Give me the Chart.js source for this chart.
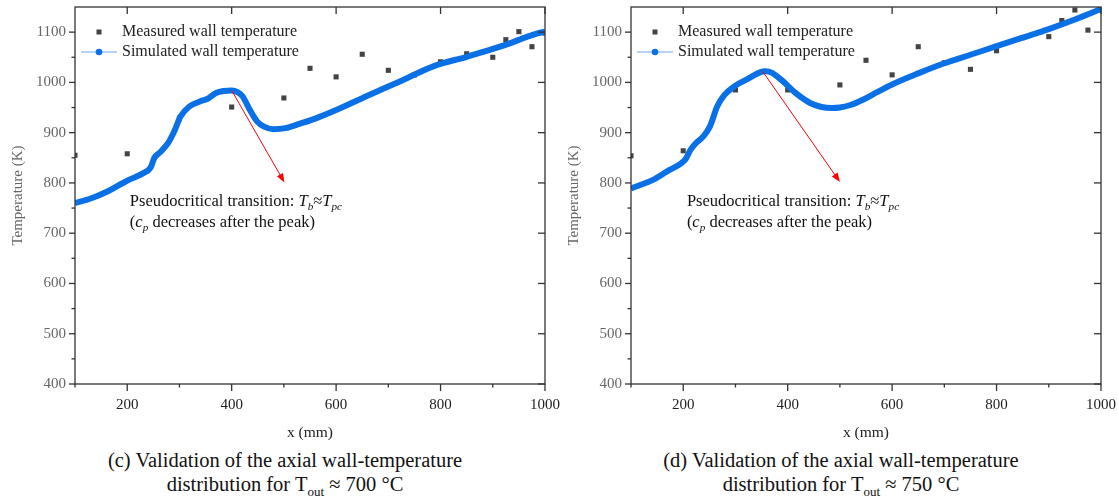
<!DOCTYPE html>
<html>
<head>
<meta charset="utf-8">
<script src="https://cdn.jsdelivr.net/npm/chart.js@4.4.1/dist/chart.umd.min.js"></script>
<style>
  body { margin: 0; background: #fff; }
  #page { position: relative; width: 1119px; height: 501px; overflow: hidden; font-family: 'Liberation Serif', 'Times New Roman', serif; }
  .panel { position: absolute; top: 0; }
  .cap { position: absolute; text-align: center; font-size: 20.5px; line-height: 24px; color: #111; white-space: nowrap; }
  .cap .sub { font-size: 13px; position: relative; top: 5px; }
</style>
</head>
<body>
<div id="page">
  <div class="panel" style="left:0"><canvas id="chartC" width="560" height="445"></canvas></div>
  <div class="panel" style="left:560px"><canvas id="chartD" width="559" height="445"></canvas></div>
  <div class="cap" style="left:0;width:570px;top:448px">(c) Validation of the axial wall-temperature</div>
  <div class="cap" style="left:0;width:570px;top:472px">distribution for T<span class="sub">out</span> ≈ 700 °C</div>
  <div class="cap" style="left:560px;width:562px;top:448px">(d) Validation of the axial wall-temperature</div>
  <div class="cap" style="left:560px;width:562px;top:472px">distribution for T<span class="sub">out</span> ≈ 750 °C</div>
</div>
<script>
// axis ticks (mm, K)
const xTicks = [200, 400, 600, 800, 1000];
const xMinor = [100, 300, 500, 700, 900];
const yTicks = [400, 500, 600, 700, 800, 900, 1000, 1100];
const yMinor = [450, 550, 650, 750, 850, 950, 1050];

// (c) T_out ~ 700 C
const measX_c = [100, 200, 300, 400, 500, 550, 600, 650, 700, 750, 800, 850, 900, 925, 950, 975, 1000];
const measT_c = [855, 858, 929, 951, 969, 1028, 1011, 1056, 1024, 1015, 1041, 1057, 1050, 1085, 1101, 1071, 1098];
const simX_c = [100, 130, 162, 185, 203, 230, 245, 252, 264, 278, 291, 302, 319, 339, 353, 370, 385, 400, 412, 421, 435, 449, 462, 480, 503, 531, 560, 600, 659, 722, 786, 850, 914, 984, 1000];
const simT_c = [760, 769, 783, 796, 806, 819, 831, 850, 862, 879, 905, 932, 952, 962, 967, 979, 983, 984, 980, 972, 945, 922, 912, 907, 909, 918, 928, 945, 973, 1002, 1032, 1051, 1071, 1097, 1101];

// (d) T_out ~ 750 C
const measX_d = [100, 200, 300, 400, 500, 550, 600, 650, 700, 750, 800, 850, 900, 925, 950, 975];
const measT_d = [854, 864, 985, 985, 995, 1044, 1015, 1071, 1039, 1026, 1063, 1089, 1091, 1123, 1144, 1104];
const simX_d = [100, 142, 169, 196, 205, 214, 224, 238, 251, 265, 279, 299, 320, 347, 357, 370, 388, 415, 443, 465, 484, 500, 520, 545, 570, 600, 650, 700, 750, 800, 850, 900, 950, 1000];
const simT_d = [789, 806, 823, 839, 848, 866, 879, 892, 912, 952, 975, 993, 1005, 1020, 1022, 1019, 1005, 979, 959, 951, 949, 950, 955, 966, 980, 996, 1018, 1038, 1055, 1072, 1089, 1106, 1125, 1146];

const serif = "'Liberation Serif', 'Times New Roman', serif";
const blue = '#0a70e6';

function line(ctx, x1, y1, x2, y2) {
  ctx.beginPath();
  ctx.moveTo(x1, y1);
  ctx.lineTo(x2, y2);
  ctx.stroke();
}

// draw a line of mixed text: runs of {t, it, sub}
function drawRuns(ctx, x, y, runs, size) {
  ctx.textBaseline = 'middle';
  ctx.textAlign = 'left';
  runs.forEach(r => {
    const s = r.sub ? size * 0.68 : size;
    ctx.font = (r.it ? 'italic ' : '') + s + 'px ' + serif;
    ctx.fillText(r.t, x, r.sub ? y + size * 0.28 : y);
    x += ctx.measureText(r.t).width;
  });
}

const framePlugin = {
  id: 'frame',
  afterDraw(chart, args, o) {
    const { ctx, chartArea: a, scales: { x, y } } = chart;
    ctx.save();

    // box and tick marks
    ctx.strokeStyle = '#333';
    ctx.lineWidth = 1.3;
    ctx.strokeRect(a.left, a.top, a.right - a.left, a.bottom - a.top);
    xTicks.forEach(v => {
      const px = x.getPixelForValue(v);
      line(ctx, px, a.bottom, px, a.bottom + 7);
      line(ctx, px, a.top, px, a.top + 7);
    });
    xMinor.forEach(v => {
      const px = x.getPixelForValue(v);
      line(ctx, px, a.bottom, px, a.bottom + 3.5);
    });
    yTicks.forEach(v => {
      const py = y.getPixelForValue(v);
      line(ctx, a.left - 6, py, a.left, py);
      line(ctx, a.right - 7, py, a.right, py);
    });
    yMinor.forEach(v => {
      const py = y.getPixelForValue(v);
      line(ctx, a.left - 3.5, py, a.left, py);
    });

    // legend
    const sim = chart.data.datasets[0], meas = chart.data.datasets[1];
    const ly1 = a.top + 25, ly2 = a.top + 45;
    ctx.fillStyle = '#444';
    ctx.fillRect(a.left + 24 - 2.5, ly1 - 2.5, 5, 5);
    ctx.strokeStyle = '#6aa8f0';
    ctx.lineWidth = 1;
    line(ctx, a.left + 6, ly2, a.left + 42, ly2);
    ctx.fillStyle = blue;
    ctx.beginPath();
    ctx.arc(a.left + 24, ly2, 3.3, 0, Math.PI * 2);
    ctx.fill();
    ctx.fillStyle = '#222';
    ctx.font = '16px ' + serif;
    ctx.textBaseline = 'middle';
    ctx.fillText(meas.label, a.left + 47, ly1);
    ctx.fillText(sim.label, a.left + 47, ly2);

    // arrow from the peak
    const x1 = x.getPixelForValue(o.arrow[0]), y1 = y.getPixelForValue(o.arrow[1]);
    const x2 = x.getPixelForValue(o.arrow[2]), y2 = y.getPixelForValue(o.arrow[3]);
    const ang = Math.atan2(y2 - y1, x2 - x1);
    ctx.strokeStyle = '#ff0000';
    ctx.fillStyle = '#ff0000';
    ctx.lineWidth = 1;
    line(ctx, x1, y1, x2 - 6 * Math.cos(ang), y2 - 6 * Math.sin(ang));
    ctx.beginPath();
    ctx.moveTo(x2, y2);
    ctx.lineTo(x2 - 9 * Math.cos(ang) + 3.5 * Math.sin(ang), y2 - 9 * Math.sin(ang) - 3.5 * Math.cos(ang));
    ctx.lineTo(x2 - 9 * Math.cos(ang) - 3.5 * Math.sin(ang), y2 - 9 * Math.sin(ang) + 3.5 * Math.cos(ang));
    ctx.closePath();
    ctx.fill();

    // annotation
    ctx.fillStyle = '#111';
    const nx = x.getPixelForValue(o.note[0]);
    drawRuns(ctx, nx, y.getPixelForValue(o.note[1]), [
      { t: 'Pseudocritical transition: ' }, { t: 'T', it: true }, { t: 'b', it: true, sub: true },
      { t: '≈' }, { t: 'T', it: true }, { t: 'pc', it: true, sub: true }
    ], 16.5);
    drawRuns(ctx, nx, y.getPixelForValue(o.note[2]), [
      { t: '(' }, { t: 'c', it: true }, { t: 'p', it: true, sub: true }, { t: ' decreases after the peak)' }
    ], 16.5);
    ctx.restore();
  }
};

function makeChart(id, measX, measT, simX, simT, plotLeft, padRight, titlePad, opts) {
  const H = 445, plotBottom = 384;
  return new Chart(document.getElementById(id), {
    type: 'scatter',
    data: {
      datasets: [
        {
          label: 'Simulated wall temperature',
          data: simX.map((v, i) => ({ x: v, y: simT[i] })),
          showLine: true,
          borderColor: blue,
          borderWidth: 6,
          pointRadius: 0,
          cubicInterpolationMode: 'monotone',
          order: 0
        },
        {
          label: 'Measured wall temperature',
          data: measX.map((v, i) => ({ x: v, y: measT[i] })),
          pointStyle: 'rect',
          pointRadius: 3.6,
          backgroundColor: '#444',
          borderWidth: 0,
          order: 1
        }
      ]
    },
    options: {
      responsive: false,
      animation: false,
      devicePixelRatio: 1,
      layout: { padding: { top: 7, right: padRight, left: 0, bottom: 0 } },
      plugins: { legend: { display: false }, tooltip: { enabled: false }, frame: opts },
      scales: {
        x: {
          type: 'linear', min: 100, max: 1000,
          afterBuildTicks: s => { s.ticks = xTicks.map(v => ({ value: v })); },
          afterFit: s => { s.height = H - plotBottom; s.paddingLeft = 0; s.paddingRight = 0; },
          grid: { display: false, drawTicks: false },
          border: { display: false },
          ticks: { font: { family: serif, size: 15 }, color: '#222', padding: 12, maxRotation: 0, autoSkip: false, callback: v => String(v) },
          title: { display: true, text: 'x (mm)', color: '#222', font: { family: serif, size: 15.5 }, padding: { top: 0, bottom: 3 } }
        },
        y: {
          min: 400, max: 1150,
          afterBuildTicks: s => { s.ticks = yTicks.map(v => ({ value: v })); },
          afterFit: s => { s.width = plotLeft; s.paddingTop = 0; s.paddingBottom = 0; },
          grid: { display: false, drawTicks: false },
          border: { display: false },
          ticks: { font: { family: serif, size: 15 }, color: '#666', padding: 9, callback: v => String(v) },
          title: { display: true, text: 'Temperature (K)', color: '#666', font: { family: serif, size: 15 }, padding: { top: titlePad, bottom: 0 } }
        }
      }
    },
    plugins: [framePlugin]
  });
}

makeChart('chartC', measX_c, measT_c, simX_c, simT_c, 75, 15, 9,
  { arrow: [400, 984, 501, 801], note: [205, 762, 720] });
makeChart('chartD', measX_d, measT_d, simX_d, simT_d, 71, 18, 5,
  { arrow: [352, 1022, 500, 802], note: [207, 762, 720] });
</script>
</body>
</html>
